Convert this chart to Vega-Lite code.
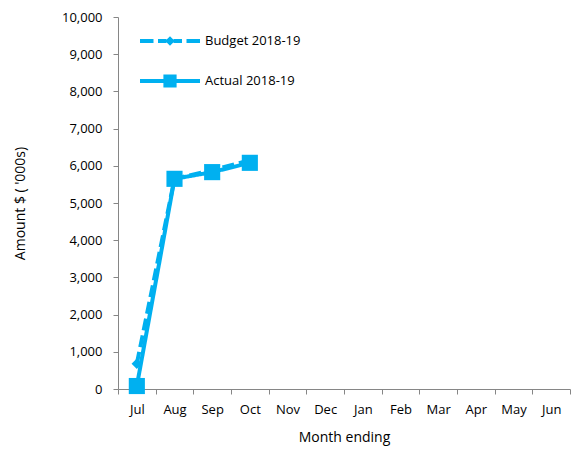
{
  "$schema": "https://vega.github.io/schema/vega-lite/v6.json",
  "width": 452,
  "height": 372,
  "autosize": "none",
  "padding": {"left": 118, "top": 17, "right": 6, "bottom": 63},
  "background": "white",
  "config": {
    "view": {"stroke": null},
    "font": "Open Sans",
    "axis": {"labelFont": "Open Sans", "titleFont": "Open Sans", "labelFontSize": 13, "titleFontSize": 14, "labelColor": "#000000", "titleColor": "#000000", "titleFontWeight": "normal", "domainColor": "#868686", "tickColor": "#868686", "grid": false}
  },
  "data": {
    "values": [
      {"month": "Jul", "series": "Budget 2018-19", "value": 680},
      {"month": "Aug", "series": "Budget 2018-19", "value": 5650},
      {"month": "Sep", "series": "Budget 2018-19", "value": 5880},
      {"month": "Oct", "series": "Budget 2018-19", "value": 6150},
      {"month": "Jul", "series": "Actual 2018-19", "value": 80},
      {"month": "Aug", "series": "Actual 2018-19", "value": 5650},
      {"month": "Sep", "series": "Actual 2018-19", "value": 5830},
      {"month": "Oct", "series": "Actual 2018-19", "value": 6080}
    ]
  },
  "encoding": {
    "x": {"field": "month", "type": "ordinal", "sort": ["Jul","Aug","Sep","Oct","Nov","Dec","Jan","Feb","Mar","Apr","May","Jun"],
      "scale": {"domain": ["Jul","Aug","Sep","Oct","Nov","Dec","Jan","Feb","Mar","Apr","May","Jun"], "paddingInner": 0, "paddingOuter": 0},
      "axis": {"title": "Month ending", "labelAngle": 0, "tickBand": "extent", "tickSize": 5, "labelPadding": 9, "titlePadding": 14}},
    "y": {"field": "value", "type": "quantitative", "scale": {"domain": [0, 10000], "nice": false},
      "axis": {"title": "Amount $ ( '000s)", "values": [0,1000,2000,3000,4000,5000,6000,7000,8000,9000,10000], "format": ",d", "tickSize": 5, "labelPadding": 11, "titlePadding": 34}}
  },
  "layer": [
    {
      "mark": {"type": "line", "strokeWidth": 4},
      "encoding": {
        "color": {"field": "series", "type": "nominal", "scale": {"domain": ["Budget 2018-19","Actual 2018-19"], "range": ["#00B0F0","#00B0F0"]},
          "legend": {"title": null, "orient": "none", "legendX": 22, "legendY": -6, "labelFontSize": 13, "labelFont": "Open Sans", "labelColor": "#000000", "symbolSize": 3600, "symbolStrokeWidth": 0, "rowPadding": 3, "labelOffset": 5,
            "encode": {"symbols": {"update": {
              "shape": {"signal": "datum.value === 'Budget 2018-19' ? 'M-1,-0.07L-0.55,-0.07L-0.55,0.07L-1,0.07ZM-0.4,-0.07L-0.12,-0.07L-0.12,0.07L-0.4,0.07ZM-0.16,0L0,-0.16L0.16,0L0,0.16ZM0.12,-0.07L0.4,-0.07L0.4,0.07L0.12,0.07ZM0.55,-0.07L1,-0.07L1,0.07L0.55,0.07Z' : 'M-1,-0.07L1,-0.07L1,0.07L-1,0.07ZM-0.22,-0.22L0.22,-0.22L0.22,0.22L-0.22,0.22Z'"},
              "fill": {"value": "#00B0F0"},
              "fillOpacity": {"value": 1},
              "opacity": {"value": 1},
              "strokeWidth": {"value": 0},
              "size": {"value": 3600}
            }}}}},
        "strokeDash": {"field": "series", "type": "nominal", "scale": {"domain": ["Budget 2018-19","Actual 2018-19"], "range": [[12,5],[1,0]]}, "legend": null}
      }
    },
    {
      "transform": [{"filter": "datum.series === 'Budget 2018-19'"}],
      "mark": {"type": "point", "shape": "diamond", "size": 110, "filled": true, "opacity": 1, "color": "#00B0F0"}
    },
    {
      "transform": [{"filter": "datum.series === 'Actual 2018-19'"}],
      "mark": {"type": "point", "shape": "square", "size": 260, "filled": true, "opacity": 1, "color": "#00B0F0"}
    }
  ]
}
